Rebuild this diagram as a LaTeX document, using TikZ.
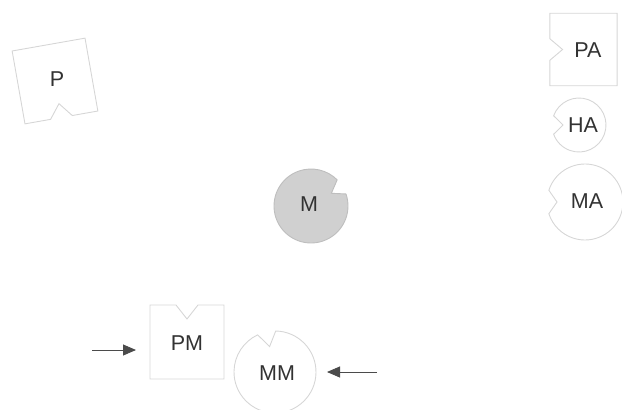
\documentclass[tikz,border=0pt]{standalone}
\usepackage{fontspec}
\setmainfont{Liberation Sans}
\definecolor{lineGray}{RGB}{214,214,214}
\definecolor{fillGray}{RGB}{208,208,208}
\definecolor{edgeGray}{RGB}{190,190,190}
\definecolor{textGray}{RGB}{50,50,50}
\definecolor{arrowGray}{RGB}{75,75,75}
\usetikzlibrary{arrows.meta}

% square with a notch cut in its left side
\newcommand{\notchsq}[1]{%
  \draw[shp,#1] (-37,-37) -- (37,-37) -- (37,37) -- (-37,37)
    -- (-37,11) -- (-23,0) -- (-37,-11) -- cycle;}
% circle with a notch cut in its left side: options, radius, half angle, depth
\newcommand{\notchcirc}[4]{%
  \draw[shp,#1] (-180+#3:#2) arc[start angle=-180+#3, end angle=180-#3, radius=#2]
    -- (-#2+#4,0) -- cycle;}

\begin{document}
\begin{tikzpicture}[x=1pt, y=-1pt,
  shp/.style={draw=lineGray, line width=0.9pt, line join=miter},
  lbl/.style={text=textGray, font=\fontsize{21.5}{24}\selectfont, inner sep=0pt},
  arr/.style={-{Triangle[length=13pt, width=11pt]}, arrowGray, line width=0.9pt}
]
  \useasboundingbox (0,0) rectangle (622,410);

  % receptors
  \notchsq{shift={(55,81)}, rotate=100}
  \notchsq{shift={(583.5,49.5)}, xscale=0.91, yscale=0.98}
  \notchsq{shift={(187,342)}, rotate=-90}
  \notchcirc{shift={(579,125)}}{27}{20}{11}
  \notchcirc{shift={(585,202)}}{38}{18}{10}
  \notchcirc{shift={(275,372)}, rotate=-78}{41}{13}{15}
  \notchcirc{shift={(311,206)}, rotate=-148, fill=fillGray, draw=edgeGray}{37}{13}{13}

  % labels
  \node[lbl] (p)  at (57,79)   {P};
  \node[lbl] (pa) at (588,50)  {PA};
  \node[lbl] (ha) at (583,125) {HA};
  \node[lbl] (ma) at (587,201) {MA};
  \node[lbl] (m)  at (309,204) {M};
  \node[lbl] (pm) at (187,343) {PM};
  \node[lbl] (mm) at (277,373) {MM};

  % incoming arrows
  \coordinate (pmFrom) at (92,350);
  \coordinate (pmTo)   at (136,350);
  \coordinate (mmFrom) at (377,372);
  \coordinate (mmTo)   at (327,372);
  \draw[arr] (pmFrom) -- (pmTo);
  \draw[arr] (mmFrom) -- (mmTo);
\end{tikzpicture}
\end{document}
